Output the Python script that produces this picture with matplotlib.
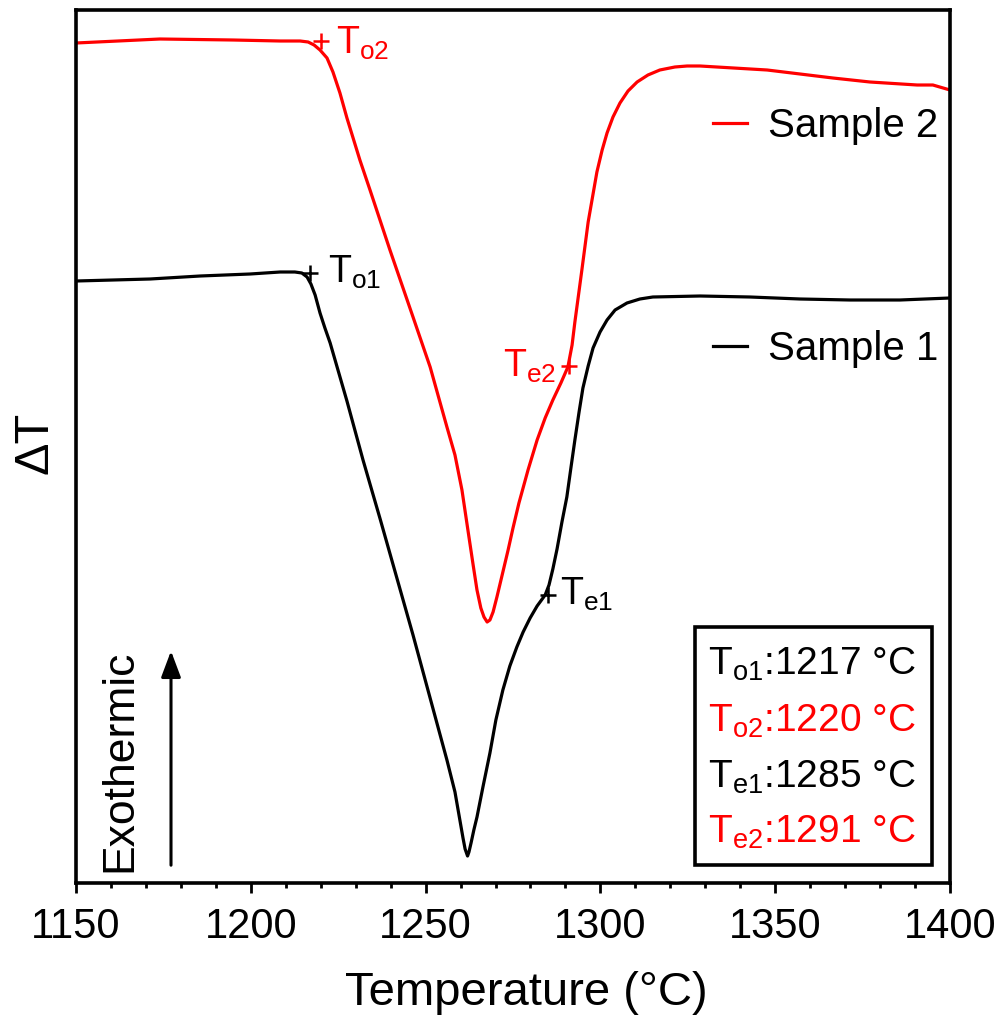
import matplotlib
matplotlib.use("Agg")
import matplotlib.pyplot as plt
from matplotlib.patches import Rectangle
from matplotlib.ticker import MultipleLocator

plt.rcParams["font.family"] = ["Liberation Sans", "DejaVu Sans"]
plt.rcParams["mathtext.fontset"] = "custom"
plt.rcParams["mathtext.rm"] = "Liberation Sans"
plt.rcParams["mathtext.it"] = "Liberation Sans:italic"
plt.rcParams["mathtext.default"] = "rm"

# DTA traces (temperature in °C, ΔT in arbitrary units)
temp_s1 = [1150.0, 1171.2, 1185.5, 1199.8, 1208.4, 1212.6, 1214.6, 1216.1, 1217.2,
           1218.4, 1219.8, 1221.2, 1222.7, 1227.5, 1232.1, 1237.0, 1246.4, 1256.1,
           1258.4, 1259.8, 1260.7, 1261.3, 1262.0, 1262.4, 1263.0, 1263.8, 1264.7,
           1266.4, 1268.4, 1270.1, 1272.1, 1274.1, 1276.1, 1277.9, 1279.9, 1281.9,
           1284.2, 1285.3, 1286.4, 1287.6, 1289.0, 1290.4, 1291.6, 1292.7, 1293.9,
           1295.0, 1296.5, 1297.9, 1299.9, 1301.9, 1304.2, 1307.6, 1311.3, 1315.0,
           1328.5, 1342.8, 1357.1, 1371.4, 1385.7, 1400.0]
dt_s1 = [6.02, 6.04, 6.07, 6.09, 6.11, 6.11, 6.10, 6.06, 5.99,
         5.88, 5.70, 5.55, 5.40, 4.82, 4.23, 3.64, 2.48, 1.23,
         0.91, 0.63, 0.45, 0.34, 0.27, 0.31, 0.40, 0.53, 0.66,
         0.96, 1.30, 1.63, 1.93, 2.17, 2.36, 2.51, 2.65, 2.77,
         2.88, 2.98, 3.14, 3.34, 3.61, 3.86, 4.16, 4.43, 4.71,
         4.95, 5.17, 5.35, 5.51, 5.63, 5.73, 5.80, 5.84, 5.86,
         5.87, 5.86, 5.84, 5.83, 5.83, 5.85]

temp_s2 = [1150.0, 1174.0, 1194.9, 1208.4, 1214.1, 1216.4, 1218.1, 1219.8, 1221.8,
           1223.5, 1225.5, 1227.5, 1231.2, 1234.1, 1239.8, 1246.4, 1251.3, 1256.1,
           1258.4, 1260.4, 1262.1, 1263.6, 1264.7, 1265.8, 1266.7, 1267.6, 1268.4,
           1269.3, 1270.4, 1271.9, 1273.6, 1275.0, 1276.7, 1279.3, 1281.9, 1284.2,
           1286.4, 1288.7, 1290.7, 1291.9, 1292.7, 1294.7, 1296.5, 1299.0, 1300.5,
           1301.9, 1303.6, 1305.6, 1307.9, 1310.5, 1313.6, 1317.0, 1321.3, 1324.8,
           1328.5, 1347.7, 1357.1, 1366.5, 1377.1, 1390.6, 1395.1, 1400.0]
dt_s2 = [8.40, 8.44, 8.43, 8.42, 8.42, 8.41, 8.38, 8.33, 8.25,
         8.11, 7.90, 7.65, 7.23, 6.93, 6.33, 5.66, 5.16, 4.56,
         4.28, 3.93, 3.53, 3.18, 2.93, 2.75, 2.66, 2.61, 2.63,
         2.71, 2.86, 3.08, 3.33, 3.55, 3.80, 4.13, 4.43, 4.65,
         4.83, 5.00, 5.16, 5.38, 5.61, 6.13, 6.61, 7.11, 7.33,
         7.50, 7.66, 7.80, 7.92, 8.01, 8.08, 8.13, 8.16, 8.17,
         8.17, 8.13, 8.09, 8.05, 8.01, 7.98, 7.98, 7.93]

# onset / endset points
mark_names = ["o1", "o2", "e1", "e2"]
mark_temp = [1217, 1220, 1285, 1291]
mark_dt = [6.10, 8.42, 2.88, 5.17]
mark_color = ["black", "red", "black", "red"]

fig = plt.figure(figsize=(10.04, 10.18), dpi=100)
ax = fig.add_axes([76 / 1004, 135 / 1018, 874 / 1004, 873 / 1018])

l2, = ax.plot(temp_s2, dt_s2, color="red", lw=2.3, solid_joinstyle="round")
l1, = ax.plot(temp_s1, dt_s1, color="black", lw=2.3, solid_joinstyle="round")

# markers + labels
offsets = {"o1": (13, -7, "left"), "o2": (11, -9, "left"),
           "e1": (9, -7, "left"), "e2": (-9, -8, "right")}
for name, t, v, c in zip(mark_names, mark_temp, mark_dt, mark_color):
    ax.plot([t], [v], marker="+", ms=11, mew=1.8, color=c, ls="none")
    dx, dy, ha = offsets[name]
    ax.annotate(f"T$_{{{name}}}$", (t, v), xytext=(dx, dy), textcoords="offset points",
                ha=ha, va="baseline", fontsize=27, color=c)

ax.set_xlim(1150, 1400)
ax.set_ylim(0, 8.73)
ax.set_yticks([])
ax.xaxis.set_major_locator(MultipleLocator(50))
ax.xaxis.set_minor_locator(MultipleLocator(10))
ax.tick_params(axis="x", which="major", direction="out", length=7, width=2,
               labelsize=30, pad=10)
ax.tick_params(axis="x", which="minor", direction="out", length=3.6, width=2)
for sp in ax.spines.values():
    sp.set_linewidth(2.6)

# legends (two separate entries)
leg2 = ax.legend([l2], ["Sample 2"], loc="center left", bbox_to_anchor=(0.729, 0.867),
                 frameon=False, fontsize=29, handlelength=0.85, handletextpad=0.5,
                 borderpad=0, borderaxespad=0)
ax.add_artist(leg2)
ax.legend([l1], ["Sample 1"], loc="center left", bbox_to_anchor=(0.729, 0.612),
          frameon=False, fontsize=29, handlelength=0.85, handletextpad=0.5,
          borderpad=0, borderaxespad=0)

# info box
ax.add_patch(Rectangle((0.708, 0.0206), 0.271, 0.2726, transform=ax.transAxes,
                       fill=False, ec="black", lw=2.6, zorder=5))
box_lines = ["T$_{o1}$:1217 °C", "T$_{o2}$:1220 °C", "T$_{e1}$:1285 °C", "T$_{e2}$:1291 °C"]
box_colors = ["black", "red", "black", "red"]
box_y = [0.2383, 0.1730, 0.1088, 0.0458]
for s, c, y in zip(box_lines, box_colors, box_y):
    ax.text(0.723, y, s, transform=ax.transAxes, fontsize=28, color=c,
            ha="left", va="baseline")

# exothermic arrow
ax.annotate("", xy=(0.1087, 0.269), xytext=(0.1087, 0.0172), xycoords="axes fraction",
            arrowprops=dict(arrowstyle="-|>,head_length=0.8,head_width=0.3",
                            mutation_scale=20, lw=2.2, color="black"))
ax.text(0.050, 0.140, "Exothermic", transform=ax.transAxes, rotation=90,
        ha="center", va="center", fontsize=32)

fig.text(35 / 1004, 1 - 443 / 1018, "ΔT", rotation=90, ha="center", va="center",
         fontsize=35)
fig.text(526 / 1004, 1 - 1005 / 1018, "Temperature (°C)", ha="center", va="baseline",
         fontsize=34)

fig.savefig("out.png", dpi=100, facecolor="white")
